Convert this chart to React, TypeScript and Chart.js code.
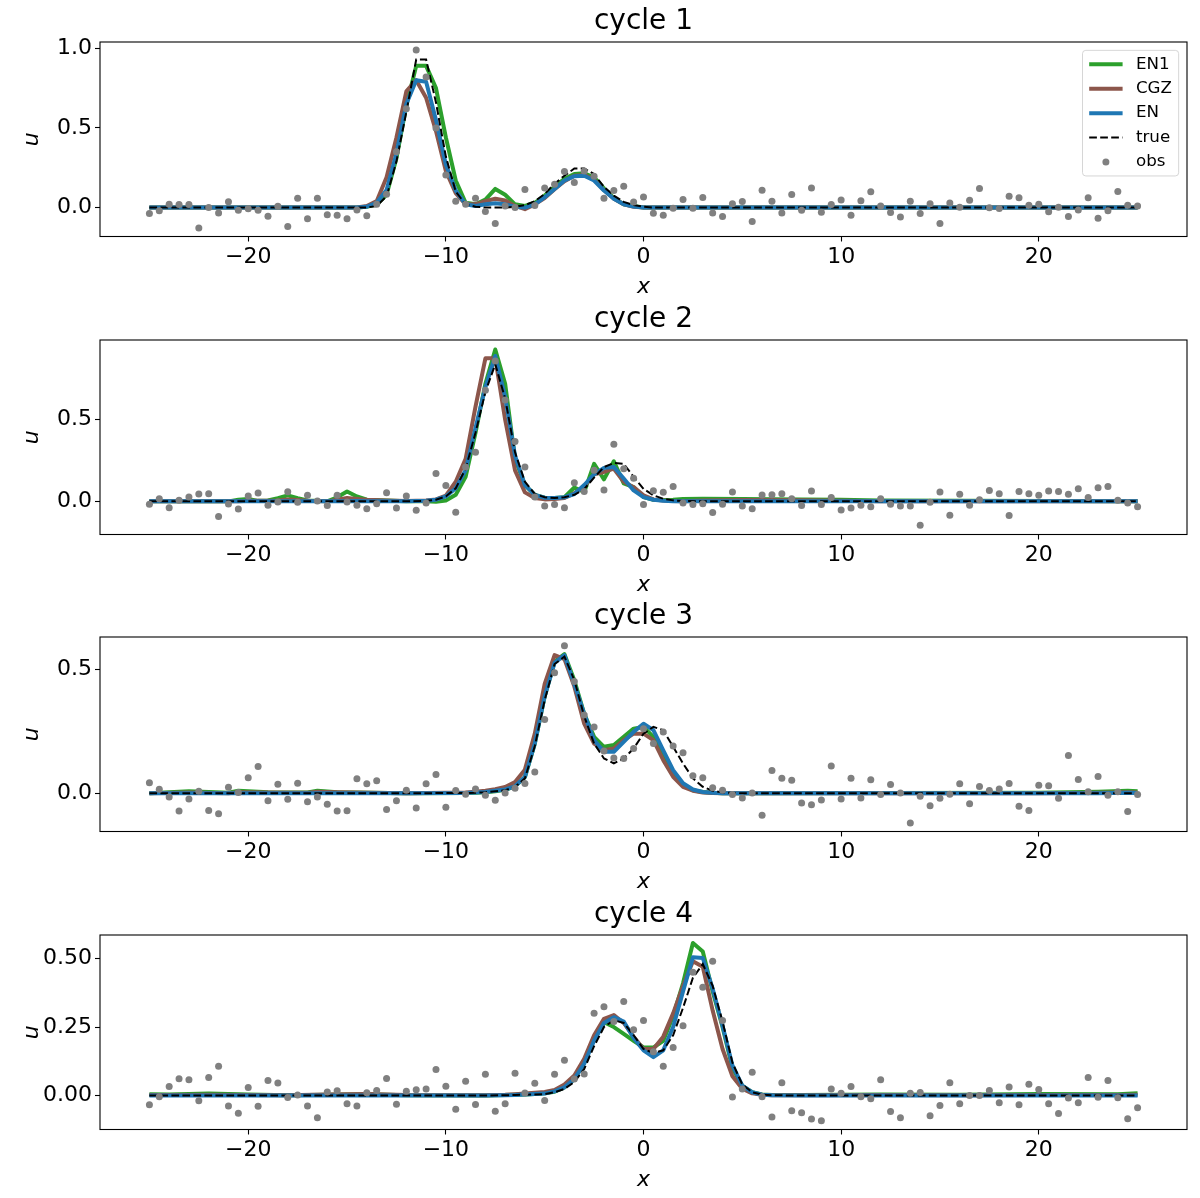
import React, { useEffect, useRef } from 'react';
import { Chart, registerables } from 'chart.js';

Chart.register(...registerables);

// observation grid, dx = 0.5 over [-25, 25]
const obsX = Array.from({ length: 101 }, (_, i) => -25 + 0.5 * i);
const xTicks = [-20, -10, 0, 10, 20];

// ---- cycle 1
const c1LineX = [-25, -14.5, -14, -13.5, -13, -12.5, -12, -11.5, -11, -10.5, -10, -9.5, -9, -8.5, -8, -7.5, -7, -6.5, -6, -5.5, -5, -4.5, -4, -3.5, -3, -2.5, -2, -1.5, -1, -0.5, 0, 0.5, 25];
const c1True = [0, 0, 0, 0.01, 0.07, 0.29, 0.6, 0.93, 0.93, 0.66, 0.32, 0.1, 0.02, 0.005, 0, 0, 0, 0.005, 0.015, 0.04, 0.085, 0.15, 0.2, 0.245, 0.245, 0.21, 0.13, 0.075, 0.035, 0.015, 0.005, 0, 0];
const c1EN1 = [0, 0, 0.005, 0.02, 0.08, 0.31, 0.64, 0.89, 0.89, 0.75, 0.44, 0.17, 0.03, 0.02, 0.05, 0.117, 0.08, 0.02, 0.01, 0.03, 0.075, 0.13, 0.18, 0.21, 0.215, 0.19, 0.12, 0.06, 0.02, 0.01, 0, 0, 0];
const c1CGZ = [0, 0, 0.01, 0.04, 0.19, 0.44, 0.73, 0.8, 0.69, 0.48, 0.23, 0.09, 0.02, 0.02, 0.04, 0.055, 0.044, 0.01, -0.01, 0.02, 0.06, 0.115, 0.165, 0.2, 0.205, 0.175, 0.11, 0.055, 0.02, 0.005, 0, 0, 0];
const c1EN = [0, 0, 0.005, 0.03, 0.11, 0.34, 0.65, 0.8, 0.79, 0.55, 0.27, 0.107, 0.02, 0.01, 0.02, 0.027, 0.02, 0.005, 0, 0.02, 0.065, 0.117, 0.17, 0.197, 0.2, 0.17, 0.107, 0.055, 0.02, 0.006, 0, 0, 0];
const c1Obs = [
  -0.038, -0.021, 0.021, 0.019, 0.019, -0.128, 0.0, -0.034, 0.036, -0.017,
  -0.008, -0.017, -0.055, 0.008, -0.119, 0.059, -0.071, 0.059, -0.046, -0.048,
  -0.071, -0.015, -0.052, 0.021, 0.084, 0.35, 0.62, 0.99, 0.82, 0.5,
  0.205, 0.04, 0.02, 0.059, -0.025, -0.101, 0.01, 0.0, 0.113, 0.013,
  0.122, 0.147, 0.226, 0.157, 0.23, 0.197, 0.059, 0.107, 0.134, 0.034,
  0.066, -0.036, -0.049, -0.005, 0.051, -0.004, 0.063, -0.034, -0.057, 0.023,
  0.038, -0.088, 0.109, 0.04, -0.034, 0.082, -0.017, 0.122, -0.029, 0.019,
  0.048, -0.048, 0.042, 0.099, 0.01, -0.031, -0.059, 0.04, -0.038, 0.023,
  -0.101, 0.029, 0.002, 0.046, 0.12, -0.002, -0.006, 0.071, 0.061, 0.015,
  0.021, -0.027, 0.002, -0.057, -0.015, 0.061, -0.067, -0.021, 0.101, 0.015,
  0.01,
];

// ---- cycle 2
const c2LineX = [-25, -21, -20.5, -20, -19.5, -19, -18.5, -18, -17.5, -17, -16, -15.5, -15, -14.5, -14, -13, -12, -11, -10.5, -10, -9.5, -9, -8.5, -8, -7.5, -7, -6.5, -6, -5.5, -5, -4.5, -4, -3.5, -3, -2.5, -2, -1.5, -1, -0.5, 0, 0.5, 1, 1.5, 2, 3, 5, 8, 10, 12, 25];
const c2True = [0, 0, 0, 0, 0, 0, 0, 0, 0, 0, 0, 0, 0, 0, 0, 0, 0, 0.003, 0.01, 0.03, 0.08, 0.2, 0.42, 0.67, 0.84, 0.63, 0.3, 0.12, 0.045, 0.025, 0.02, 0.025, 0.04, 0.075, 0.145, 0.21, 0.235, 0.23, 0.15, 0.077, 0.037, 0.016, 0.006, 0.002, 0, 0, 0, 0, 0, 0];
const c2EN1 = [0, 0, 0.01, 0.015, 0.003, 0.005, 0.02, 0.037, 0.02, 0.005, 0, 0.025, 0.06, 0.03, 0.01, 0.005, 0, 0, -0.002, 0.005, 0.04, 0.15, 0.42, 0.72, 0.93, 0.72, 0.26, 0.1, 0.04, 0.022, 0.02, 0.025, 0.085, 0.057, 0.23, 0.135, 0.245, 0.11, 0.087, 0.026, 0.01, 0.008, 0.01, 0.015, 0.016, 0.014, 0.012, 0.01, 0.005, 0];
const c2CGZ = [0, 0, 0, 0.003, 0.003, 0.003, 0.005, 0.012, 0.008, 0.003, 0, 0.01, 0.02, 0.015, 0.01, 0.005, 0.002, 0.005, 0.012, 0.035, 0.12, 0.26, 0.58, 0.876, 0.876, 0.5, 0.19, 0.055, 0.02, 0.012, 0.015, 0.02, 0.05, 0.09, 0.165, 0.18, 0.2, 0.12, 0.087, 0.037, 0.012, 0.005, 0.002, 0, 0.005, 0.008, 0.006, 0.004, 0, 0];
const c2EN = [0, 0, 0, 0, 0, 0, 0, 0, 0, 0, 0, 0, 0, 0.002, 0, 0, 0, 0.003, 0.01, 0.03, 0.08, 0.19, 0.45, 0.7, 0.89, 0.64, 0.28, 0.1, 0.04, 0.022, 0.02, 0.025, 0.045, 0.1, 0.165, 0.205, 0.21, 0.14, 0.067, 0.026, 0.01, 0.003, 0, 0, 0, 0, 0, 0, 0, 0];
const c2Obs = [
  -0.018, 0.016, -0.039, 0.006, 0.026, 0.045, 0.047, -0.093, -0.016, -0.047,
  0.033, 0.051, -0.024, -0.004, 0.059, -0.006, 0.037, 0.002, -0.026, 0.037,
  -0.004, -0.024, -0.045, -0.014, 0.053, -0.041, 0.033, -0.055, -0.01, 0.17,
  0.097, -0.067, 0.21, 0.3, 0.68, 0.86, 0.62, 0.366, 0.21, 0.026,
  -0.028, -0.02, -0.039, 0.114, 0.06, 0.19, 0.069, 0.35, 0.2, 0.142,
  -0.02, 0.065, 0.055, 0.091, -0.01, -0.02, -0.014, -0.069, -0.018, 0.057,
  -0.029, -0.045, 0.039, 0.041, 0.047, 0.016, -0.026, 0.063, -0.02, 0.024,
  -0.053, -0.041, -0.024, -0.033, 0.016, -0.018, -0.029, -0.029, -0.146, -0.006,
  0.057, -0.085, 0.043, -0.024, 0.01, 0.067, 0.047, -0.087, 0.061, 0.047,
  0.037, 0.063, 0.061, 0.043, 0.077, 0.024, 0.083, 0.091, 0.006, -0.01,
  -0.033,
];

// ---- cycle 3
const c3LineX = [-25, -23, -21, -20.5, -19, -17, -16.5, -15.5, -12, -9, -8.5, -8, -7.5, -7, -6.5, -6, -5.5, -5, -4.5, -4, -3.5, -3, -2.5, -2, -1.5, -1, -0.5, 0, 0.5, 1, 1.5, 2, 2.5, 3, 3.5, 4, 5, 20, 23, 24.5, 25];
const c3True = [0, 0, 0, 0, 0, 0, 0, 0, 0, 0.001, 0.002, 0.004, 0.008, 0.012, 0.025, 0.06, 0.19, 0.375, 0.52, 0.55, 0.456, 0.31, 0.2, 0.14, 0.12, 0.14, 0.18, 0.24, 0.267, 0.254, 0.187, 0.12, 0.06, 0.026, 0.01, 0.003, 0, 0, 0, 0, 0];
const c3EN1 = [0, 0.008, 0.002, 0.01, 0.004, 0.003, 0.01, 0.004, 0, 0.001, 0.002, 0.004, 0.008, 0.014, 0.028, 0.065, 0.2, 0.39, 0.53, 0.56, 0.455, 0.32, 0.227, 0.187, 0.194, 0.227, 0.26, 0.267, 0.227, 0.147, 0.08, 0.032, 0.012, 0.005, 0.002, 0, 0, 0.002, 0.006, 0.01, 0.008];
const c3CGZ = [0, 0.003, 0, 0.004, 0.003, 0.002, 0.006, 0.004, 0, 0.003, 0.006, 0.01, 0.016, 0.025, 0.045, 0.095, 0.24, 0.44, 0.556, 0.54, 0.43, 0.28, 0.2, 0.173, 0.18, 0.214, 0.24, 0.24, 0.214, 0.133, 0.066, 0.026, 0.01, 0.003, 0.001, 0, 0, 0, 0.002, 0.004, 0.003];
const c3EN = [0, 0, 0, 0, 0, 0, 0, 0, 0, 0.001, 0.003, 0.005, 0.01, 0.015, 0.028, 0.066, 0.2, 0.39, 0.525, 0.556, 0.44, 0.32, 0.214, 0.167, 0.167, 0.207, 0.247, 0.28, 0.254, 0.173, 0.093, 0.04, 0.015, 0.005, 0.002, 0, 0, 0, 0, 0.002, 0.001];
const c3Obs = [
  0.042, 0.016, -0.015, -0.071, -0.023, 0.008, -0.069, -0.083, 0.024, 0.003,
  0.062, 0.108, -0.03, 0.036, -0.024, 0.04, -0.034, -0.015, -0.044, -0.071,
  -0.07, 0.058, 0.038, 0.05, -0.065, -0.03, 0.012, -0.059, 0.038, 0.075,
  -0.056, 0.011, -0.004, 0.017, -0.008, -0.028, 0.001, 0.02, 0.039, 0.086,
  0.297, 0.485, 0.594, 0.45, 0.315, 0.267, 0.17, 0.142, 0.14, 0.18,
  0.26, 0.2, 0.247, 0.19, 0.163, 0.07, 0.062, 0.022, 0.012, -0.005,
  -0.019, 0.001, -0.089, 0.092, 0.06, 0.052, -0.039, -0.046, -0.027, 0.11,
  -0.023, 0.06, -0.019, 0.054, -0.005, 0.035, 0.001, -0.12, -0.012, -0.05,
  -0.02, -0.004, 0.038, -0.042, 0.027, 0.011, 0.017, 0.039, -0.052, -0.069,
  0.032, 0.03, -0.02, 0.152, 0.055, 0.006, 0.067, -0.008, 0.006, -0.073,
  -0.005,
];

// ---- cycle 4
const c4LineX = [-25, -24, -22, -20, -18, -16, -14, -12, -8, -7, -6.5, -6, -5.5, -5, -4.5, -4, -3.5, -3, -2.5, -2, -1.5, -1, -0.5, 0, 0.5, 1, 1.5, 2, 2.5, 3, 3.5, 4, 4.5, 5, 5.5, 6, 6.5, 8, 12, 16, 20, 24, 25];
const c4True = [0, 0, 0, 0, 0, 0, 0, 0, 0, 0.001, 0.002, 0.003, 0.004, 0.005, 0.012, 0.024, 0.049, 0.097, 0.18, 0.25, 0.275, 0.265, 0.22, 0.17, 0.155, 0.165, 0.22, 0.32, 0.43, 0.48, 0.4, 0.27, 0.12, 0.04, 0.012, 0.003, 0.001, 0, 0, 0, 0, 0, 0];
const c4EN1 = [0.005, 0.004, 0.007, 0.004, 0.001, 0.003, 0.005, 0.001, 0, 0.002, 0.003, 0.004, 0.006, 0.008, 0.014, 0.03, 0.06, 0.12, 0.207, 0.268, 0.25, 0.225, 0.2, 0.176, 0.175, 0.2, 0.29, 0.41, 0.557, 0.526, 0.38, 0.25, 0.1, 0.035, 0.012, 0.004, 0.002, 0.002, 0.004, 0.003, 0.006, 0.005, 0.008];
const c4CGZ = [0.002, 0.002, 0.003, 0.002, 0.001, 0.004, 0.006, 0.002, 0.001, 0.003, 0.005, 0.007, 0.01, 0.013, 0.02, 0.04, 0.073, 0.134, 0.22, 0.28, 0.294, 0.265, 0.215, 0.17, 0.17, 0.215, 0.3, 0.4, 0.49, 0.47, 0.31, 0.17, 0.07, 0.025, 0.008, 0.003, 0.001, 0.001, 0.002, 0.001, 0.002, 0.002, 0.003];
const c4EN = [0, 0, 0, 0, 0, 0, 0, 0, 0, 0.001, 0.002, 0.004, 0.006, 0.007, 0.015, 0.03, 0.06, 0.116, 0.2, 0.265, 0.286, 0.27, 0.21, 0.165, 0.14, 0.165, 0.25, 0.38, 0.505, 0.502, 0.39, 0.255, 0.11, 0.036, 0.012, 0.003, 0.001, 0, 0, 0, 0, 0, 0];
const c4Obs = [
  -0.034, -0.004, 0.033, 0.061, 0.058, -0.019, 0.066, 0.107, -0.038, -0.065,
  0.029, -0.039, 0.055, 0.046, -0.007, 0.002, -0.038, -0.081, 0.013, 0.017,
  -0.03, -0.038, 0.01, 0.018, 0.062, -0.032, 0.016, 0.021, 0.024, 0.095,
  0.034, -0.05, 0.052, -0.033, 0.078, -0.057, -0.03, 0.081, 0.009, 0.045,
  -0.018, 0.078, 0.129, 0.06, 0.079, 0.3, 0.324, 0.27, 0.343, 0.24,
  0.274, 0.16, 0.107, 0.175, 0.255, 0.45, 0.395, 0.49, 0.274, -0.005,
  0.024, 0.085, -0.004, -0.078, 0.047, -0.056, -0.063, -0.086, -0.092, 0.024,
  0.008, 0.033, -0.004, -0.012, 0.058, -0.058, -0.081, 0.008, 0.011, -0.074,
  -0.036, 0.047, -0.03, 0.0, 0.0, 0.018, -0.026, 0.031, -0.034, 0.041,
  0.022, -0.03, -0.066, -0.009, -0.026, 0.066, -0.006, 0.055, -0.008, -0.085,
  -0.045,
];

const FONT = '"DejaVu Sans", sans-serif';
const PANEL_H = 298;

const fmtX = (v: number) => (v < 0 ? '\u2212' + Math.abs(v) : String(v));

// axes frame on all four sides
const framePlugin = {
  id: 'frame',
  afterDatasetsDraw(chart: any) {
    const { ctx, chartArea: a } = chart;
    ctx.save();
    ctx.strokeStyle = '#000';
    ctx.lineWidth = 1.1;
    ctx.strokeRect(a.left, a.top, a.right - a.left, a.bottom - a.top);
    ctx.restore();
  },
};

function makeLegendPlugin() {
  return {
    id: 'mplLegend',
    afterDraw(chart: any) {
      const { ctx, chartArea: a } = chart;
      const f = 16.7;
      const pad = 0.4 * f;
      const handleLen = 2 * f;
      const textPad = 0.8 * f;
      const rowH = 24.4;
      const items = chart.data.datasets;
      ctx.save();
      ctx.font = `${f}px ${FONT}`;
      const textW = Math.max(...items.map((d: any) => ctx.measureText(d.label).width));
      const w = pad + handleLen + textPad + textW + pad;
      const h = 28 + rowH * (items.length - 1);
      const right = a.right - 0.5 * f;
      const top = a.top + 0.5 * f;
      const left = right - w;
      ctx.beginPath();
      if (ctx.roundRect) ctx.roundRect(left, top, w, h, 3.3);
      else ctx.rect(left, top, w, h);
      ctx.fillStyle = 'rgba(255,255,255,0.8)';
      ctx.fill();
      ctx.strokeStyle = 'rgba(204,204,204,0.8)';
      ctx.lineWidth = 1;
      ctx.stroke();
      items.forEach((d: any, i: number) => {
        const cy = top + 14 + rowH * i;
        const hx = left + pad;
        if (d.showLine) {
          ctx.beginPath();
          ctx.strokeStyle = d.borderColor;
          ctx.lineWidth = d.borderWidth;
          ctx.setLineDash(d.borderDash || []);
          ctx.moveTo(hx, cy);
          ctx.lineTo(hx + handleLen, cy);
          ctx.stroke();
          ctx.setLineDash([]);
        } else {
          ctx.beginPath();
          ctx.fillStyle = d.backgroundColor;
          ctx.arc(hx + handleLen / 2, cy, d.pointRadius, 0, Math.PI * 2);
          ctx.fill();
        }
        ctx.fillStyle = '#000';
        ctx.textBaseline = 'middle';
        ctx.textAlign = 'left';
        ctx.fillText(d.label, hx + handleLen + textPad, cy);
      });
      ctx.restore();
    },
  };
}

function CyclePanel(props: any) {
  const { top, title, lineX, truth, en1, cgz, en, obs, yMin, yMax, yTicks, digits, legend } = props;
  const canvasRef = useRef<HTMLCanvasElement>(null);

  useEffect(() => {
    const pts = (ys: number[]) => ys.map((y, i) => ({ x: lineX[i], y }));
    const lineStyle = (color: string) => ({
      showLine: true,
      borderColor: color,
      backgroundColor: color,
      borderWidth: 4,
      borderJoinStyle: 'round',
      pointRadius: 0,
      pointHoverRadius: 0,
    });

    const plugins: any[] = [framePlugin];
    if (legend) plugins.push(makeLegendPlugin());

    const chart = new Chart(canvasRef.current as HTMLCanvasElement, {
      type: 'scatter',
      data: {
        datasets: [
          { label: 'EN1', data: pts(en1), ...lineStyle('#2ca02c'), order: 5 },
          { label: 'CGZ', data: pts(cgz), ...lineStyle('#8c564b'), order: 4 },
          { label: 'EN', data: pts(en), ...lineStyle('#1f77b4'), order: 3 },
          {
            label: 'true',
            data: pts(truth),
            showLine: true,
            borderColor: '#000',
            borderWidth: 2,
            borderDash: [7.7, 3.3],
            pointRadius: 0,
            pointHoverRadius: 0,
            order: 2,
          },
          {
            label: 'obs',
            data: obs.map((y: number, i: number) => ({ x: obsX[i], y })),
            showLine: false,
            pointRadius: 3.5,
            pointHoverRadius: 3.5,
            backgroundColor: '#808080',
            borderWidth: 0,
            order: 1,
          },
        ],
      } as any,
      options: {
        animation: false,
        responsive: true,
        maintainAspectRatio: false,
        events: [],
        layout: { padding: { left: 0, right: 13, top: 0, bottom: 0 }, autoPadding: false },
        plugins: {
          legend: { display: false },
          tooltip: { enabled: false },
          title: {
            display: true,
            text: title,
            fullSize: false,
            color: '#000',
            font: { family: FONT, size: 28, weight: 'normal', lineHeight: 1 },
            padding: { top: 8, bottom: 6 },
          },
        },
        scales: {
          x: {
            type: 'linear',
            min: -27.5,
            max: 27.5,
            afterBuildTicks: (s: any) => {
              s.ticks = xTicks.map((v) => ({ value: v }));
            },
            afterFit: (s: any) => {
              s.height = PANEL_H - 42 - 194.5;
            },
            grid: { drawOnChartArea: false, drawTicks: true, tickLength: 5, tickColor: '#000', tickWidth: 1.1 },
            border: { display: false },
            ticks: {
              autoSkip: false,
              maxRotation: 0,
              padding: 5,
              color: '#000',
              font: { family: FONT, size: 22, lineHeight: 1 },
              callback: (v: any) => fmtX(Number(v)),
            },
            title: {
              display: true,
              text: 'x',
              color: '#000',
              font: { family: FONT, size: 22, style: 'italic', lineHeight: 1 },
              padding: { top: 0, bottom: 0 },
            },
          },
          y: {
            type: 'linear',
            min: yMin,
            max: yMax,
            afterBuildTicks: (s: any) => {
              s.ticks = yTicks.map((v: number) => ({ value: v }));
            },
            afterFit: (s: any) => {
              s.width = 100;
            },
            grid: { drawOnChartArea: false, drawTicks: true, tickLength: 5, tickColor: '#000', tickWidth: 1.1 },
            border: { display: false },
            ticks: {
              autoSkip: false,
              padding: 3,
              color: '#000',
              font: { family: FONT, size: 22, lineHeight: 1 },
              callback: (v: any) => Number(v).toFixed(digits),
            },
            title: {
              display: true,
              text: 'u',
              color: '#000',
              font: { family: FONT, size: 22, style: 'italic', lineHeight: 1 },
              padding: { top: 21, bottom: 0 },
            },
          },
        },
      } as any,
      plugins,
    });

    return () => chart.destroy();
  }, []);

  return (
    <div style={{ position: 'absolute', left: 0, top, width: 1200, height: PANEL_H }}>
      <canvas ref={canvasRef} />
    </div>
  );
}

export default function App() {
  return (
    <div style={{ position: 'absolute', left: 0, top: 0, width: 1200, height: 1198, background: '#fff' }}>
      <CyclePanel top={0} title="cycle 1" lineX={c1LineX} truth={c1True} en1={c1EN1} cgz={c1CGZ} en={c1EN} obs={c1Obs}
        yMin={-0.182} yMax={1.04} yTicks={[0, 0.5, 1.0]} digits={1} legend={true} />
      <CyclePanel top={298} title="cycle 2" lineX={c2LineX} truth={c2True} en1={c2EN1} cgz={c2CGZ} en={c2EN} obs={c2Obs}
        yMin={-0.203} yMax={0.988} yTicks={[0, 0.5]} digits={1} legend={false} />
      <CyclePanel top={595} title="cycle 3" lineX={c3LineX} truth={c3True} en1={c3EN1} cgz={c3CGZ} en={c3EN} obs={c3Obs}
        yMin={-0.154} yMax={0.629} yTicks={[0, 0.5]} digits={1} legend={false} />
      <CyclePanel top={893} title="cycle 4" lineX={c4LineX} truth={c4True} en1={c4EN1} cgz={c4CGZ} en={c4EN} obs={c4Obs}
        yMin={-0.124} yMax={0.586} yTicks={[0, 0.25, 0.5]} digits={2} legend={false} />
    </div>
  );
}
